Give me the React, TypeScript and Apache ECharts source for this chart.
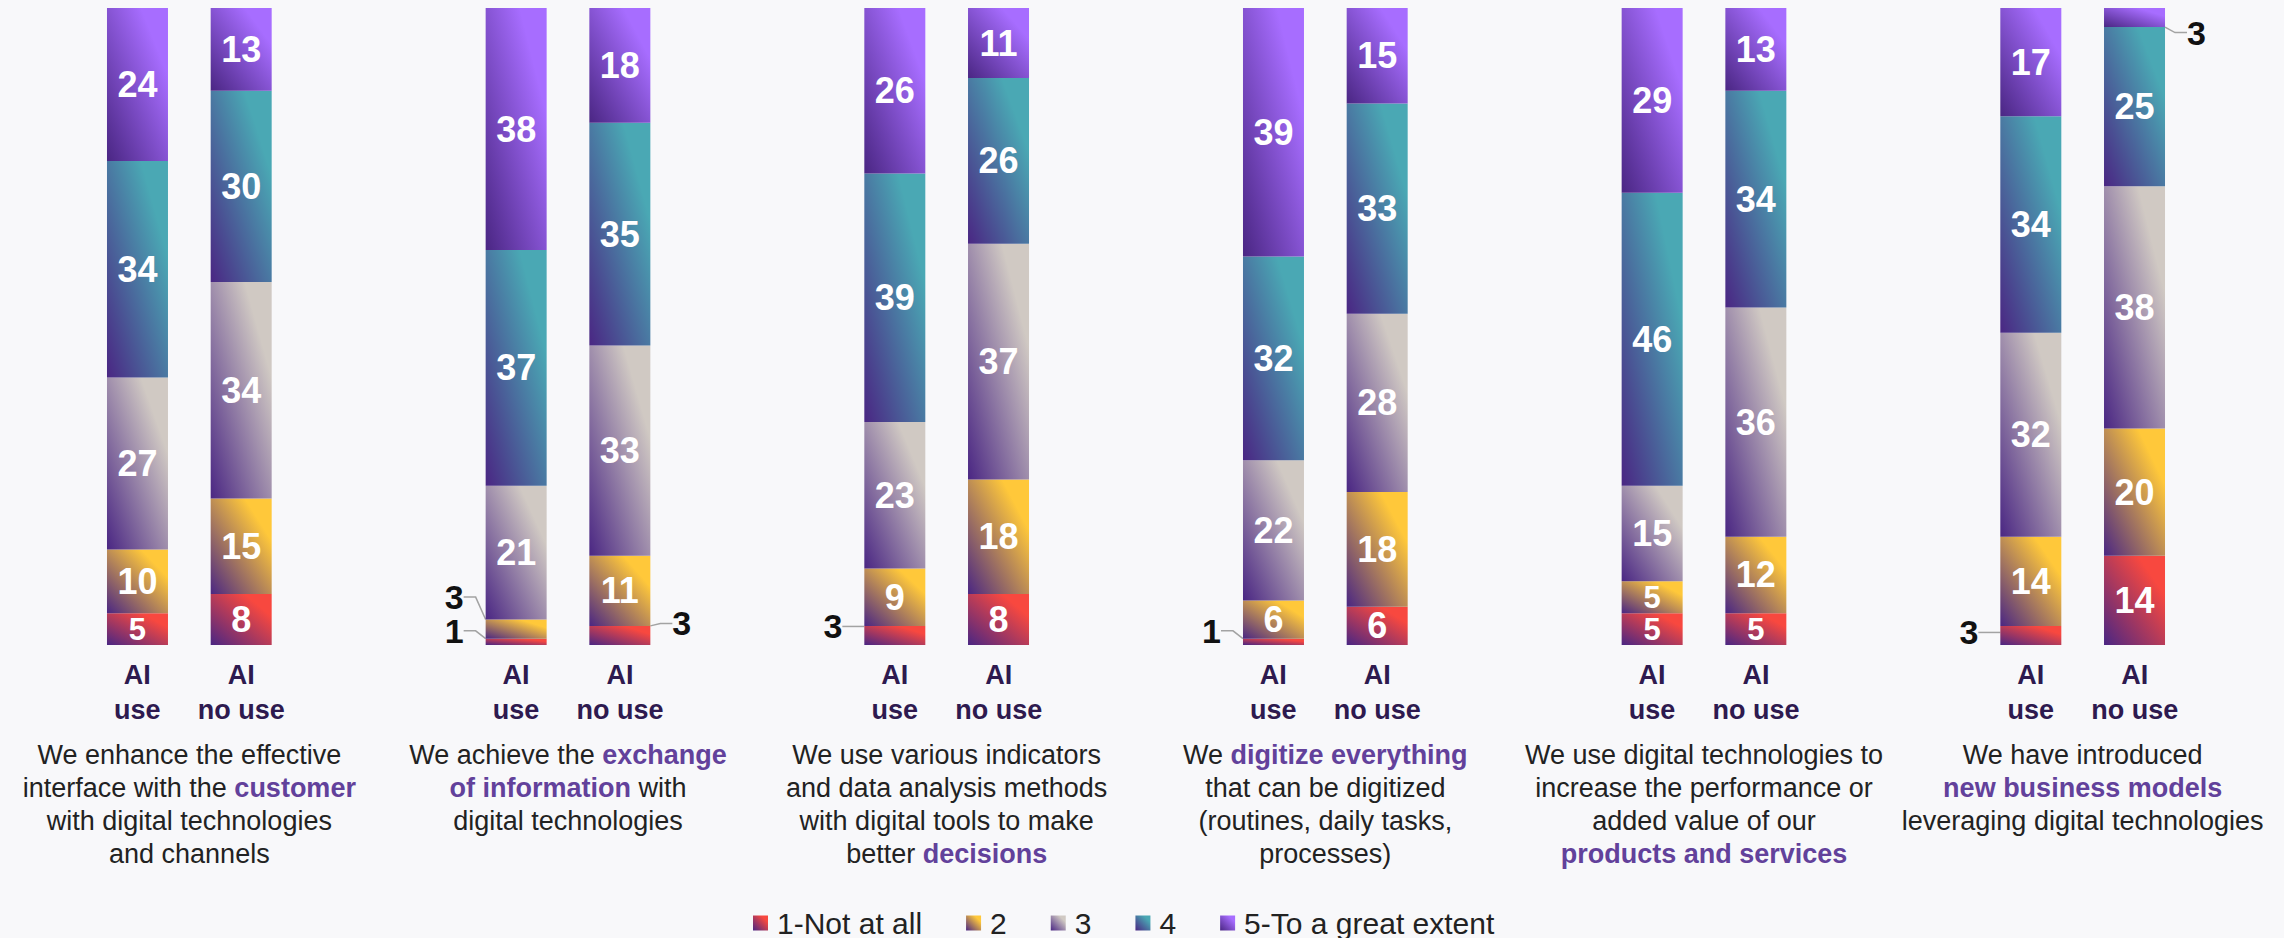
import React, { useEffect, useRef } from 'react';
import * as echarts from 'echarts';

// ---------- data ----------
const descriptions = [
  'We enhance the effective\ninterface with the {h|customer}\nwith digital technologies\nand channels',
  'We achieve the {h|exchange}\n{h|of information} with\ndigital technologies',
  'We use various indicators\nand data analysis methods\nwith digital tools to make\nbetter {h|decisions}',
  'We {h|digitize everything}\nthat can be digitized\n(routines, daily tasks,\nprocesses)',
  'We use digital technologies to\nincrease the performance or\nadded value of our\n{h|products and services}',
  'We have introduced\n{h|new business models}\nleveraging digital technologies',
];
const groupTop = ['AI', 'AI'];
const groupBottom = ['use', 'no use'];
const seriesNames = ['1-Not at all', '2', '3', '4', '5-To a great extent'];

const aiUse1 = [5, 1, 3, 1, 5, 3];
const aiUse2 = [10, 3, 9, 6, 5, 14];
const aiUse3 = [27, 21, 23, 22, 15, 32];
const aiUse4 = [34, 37, 39, 32, 46, 34];
const aiUse5 = [24, 38, 26, 39, 29, 17];

const noUse1 = [8, 3, 8, 6, 5, 14];
const noUse2 = [15, 11, 18, 18, 12, 20];
const noUse3 = [34, 33, 37, 28, 36, 38];
const noUse4 = [30, 35, 26, 33, 34, 25];
const noUse5 = [13, 18, 11, 15, 13, 3];

// ---------- styling ----------
const FONT = '"Liberation Sans", Arial, sans-serif';
const DARK = '#4a2683';
const topColors = ['#f8483f', '#ffc83a', '#d0c9c3', '#4aa8b4', '#a76dff'];

// outside (leader-line) labels: [stack][seriesIndex][dataIndex]
type Out = { side: 'left' | 'right'; dy: number };
const outsideUse: Record<number, Record<number, Out>> = {
  0: { 1: { side: 'left', dy: -11 }, 2: { side: 'left', dy: -9 }, 3: { side: 'left', dy: -11 }, 5: { side: 'left', dy: -3 } },
  1: { 1: { side: 'left', dy: -32 } },
};
const outsideNo: Record<number, Record<number, Out>> = {
  0: { 1: { side: 'right', dy: -12 } },
  4: { 5: { side: 'right', dy: 15 } },
};

function grad(c: string) {
  return new echarts.graphic.LinearGradient(1, 0, 0, 1, [
    { offset: 0, color: c },
    { offset: 0.22, color: c },
    { offset: 1, color: DARK },
  ]);
}

function makeSeries(name: string, idx: number, data: number[], stack: string, outside: Record<number, Out>) {
  return {
    type: 'bar',
    name,
    stack,
    barWidth: 61,
    barGap: '70%',
    itemStyle: { color: grad(topColors[idx]) },
    label: {
      show: true,
      position: 'inside',
      color: '#ffffff',
      fontSize: 36,
      fontWeight: 'bold',
      fontFamily: FONT,
    },
    emphasis: { disabled: true },
    labelLayout: (p: any) => (outside[p.dataIndex] ? { dy: outside[p.dataIndex].dy } : {}),
    data: data.map((v, i) => {
      const o = outside[i];
      if (!o) {
        if (v <= 5) return { value: v, label: { fontSize: 31, lineHeight: 30 } };
        return v;
      }
      return {
        value: v,
        label: { position: o.side, distance: 22, color: '#111111', fontSize: 34, fontWeight: 'bold' },
        labelLine: { show: true, length2: 12, lineStyle: { color: '#a3a3a3', width: 1.5 } },
      };
    }),
  };
}

const useData = [aiUse1, aiUse2, aiUse3, aiUse4, aiUse5];
const noData = [noUse1, noUse2, noUse3, noUse4, noUse5];

const categoryLabels = descriptions.map(
  (d) =>
    `{ai|${groupTop[0]}}{ai|${groupTop[1]}}\n{ai|${groupBottom[0]}}{ai|${groupBottom[1]}}\n{sp| }\n${d}`
);

export default function App() {
  const ref = useRef<HTMLDivElement>(null);
  useEffect(() => {
    document.body.style.margin = '0';
    document.body.style.background = '#f8f8fa';
    if (!ref.current) return;
    const chart = echarts.init(ref.current, undefined, { renderer: 'svg' });
    const series: any[] = [];
    seriesNames.forEach((n, i) => series.push(makeSeries(n, i, useData[i], 'use', outsideUse[i] || {})));
    seriesNames.forEach((n, i) => series.push(makeSeries(n, i, noData[i], 'nouse', outsideNo[i] || {})));
    chart.setOption({
      animation: false,
      backgroundColor: '#f8f8fa',
      grid: { left: -6, width: 2278, top: 8, bottom: 293, containLabel: false },
      legend: {
        data: seriesNames,
        left: 748,
        top: 903,
        icon: 'rect',
        itemWidth: 15,
        itemHeight: 15,
        itemGap: 44,
        textStyle: { fontSize: 30, color: '#222222', fontFamily: FONT, padding: [0, 0, 0, 4] },
      },
      xAxis: {
        type: 'category',
        data: categoryLabels,
        axisLine: { show: false },
        axisTick: { show: false },
        axisLabel: {
          interval: 0,
          margin: 12,
          fontSize: 27,
          lineHeight: 33,
          color: '#222222',
          fontFamily: FONT,
          align: 'center',
          rich: {
            ai: {
              width: 104,
              align: 'center',
              fontSize: 27,
              fontWeight: 'bold',
              lineHeight: 35,
              color: '#2e1a4f',
              fontFamily: FONT,
            },
            sp: { fontSize: 4, lineHeight: 11 },
            h: {
              fontSize: 27,
              fontWeight: 'bold',
              color: '#62419b',
              lineHeight: 33,
              fontFamily: FONT,
            },
          },
        },
      },
      yAxis: { type: 'value', min: 0, max: 100, show: false },
      series,
    });
    return () => chart.dispose();
  }, []);
  return <div ref={ref} style={{ width: 2284, height: 938 }} />;
}
